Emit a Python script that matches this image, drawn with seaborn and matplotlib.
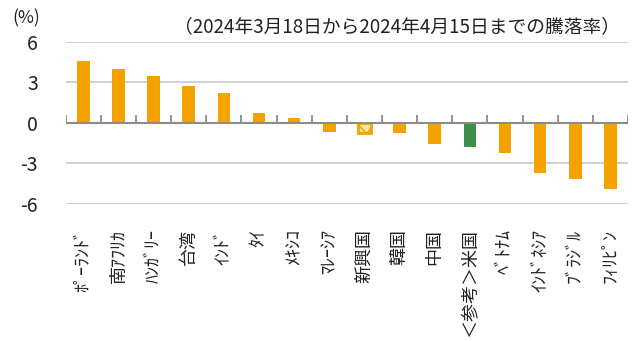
import matplotlib
matplotlib.use("Agg")
import matplotlib.pyplot as plt
import seaborn as sns
import pandas as pd

categories = ["ﾎﾟｰﾗﾝﾄﾞ", "南ｱﾌﾘｶ", "ﾊﾝｶﾞﾘｰ", "台湾", "ｲﾝﾄﾞ", "ﾀｲ", "ﾒｷｼｺ", "ﾏﾚｰｼｱ",
              "新興国", "韓国", "中国", "＜参考＞米国", "ﾍﾞﾄﾅﾑ", "ｲﾝﾄﾞﾈｼｱ", "ﾌﾞﾗｼﾞﾙ", "ﾌｨﾘﾋﾟﾝ"]
values = [4.54, 3.97, 3.48, 2.69, 2.2, 0.72, 0.35, -0.67,
          -0.78, -0.78, -1.58, -1.78, -2.27, -3.73, -4.14, -4.93]
yticks = [-6, -3, 0, 3, 6]
title_text = "（2024年3月18日から2024年4月15日までの騰落率）"
unit_text = "(%)"

ORANGE = "#F5A200"
GREEN = "#3F8F4A"
colors = {c: (GREEN if c == "＜参考＞米国" else ORANGE) for c in categories}

sns.set_theme(style="white")
plt.rcParams["font.family"] = ["Noto Sans CJK JP", "DejaVu Sans"]
plt.rcParams["hatch.linewidth"] = 1.2

df = pd.DataFrame({"cat": categories, "val": values})

fig = plt.figure(figsize=(6.32, 3.41), dpi=100)
ax = fig.add_axes([0.104, 0.402, 0.8897, 0.476])

sns.barplot(data=df, x="cat", y="val", hue="cat", palette=colors, legend=False,
            width=0.36, saturation=1, ax=ax, zorder=3)

# hatched "emerging" bar
for p, c in zip(ax.patches, categories):
    p.set_linewidth(0)
    if c == "新興国":
        p.set_facecolor("#FBE3B0")
        p.set_edgecolor(ORANGE)
        p.set_linewidth(2.0)
        p.set_hatch("xx")

ax.set_ylim(-6, 6)
ax.set_xlim(-0.5, len(categories) - 0.5)
ax.set_yticks(yticks)
ax.set_yticklabels([str(v) for v in yticks])
for y in yticks:
    if y != 0:
        ax.axhline(y, color="#C9C9C9", lw=1.2, zorder=1)
ax.axhline(0, color="#8C8C8C", lw=1.5, zorder=4)
bounds = [i - 0.5 for i in range(len(categories) + 1)]
ax.vlines(bounds, 0, 0.55, color="#8C8C8C", lw=1.3, zorder=4)

for s in ax.spines.values():
    s.set_visible(False)
ax.set_xlabel("")
ax.set_ylabel("")
ax.tick_params(axis="y", length=0, pad=20, labelsize=14, colors="#222222")
ax.tick_params(axis="x", length=0, pad=18, labelsize=13, colors="#222222")
for lbl in ax.get_xticklabels():
    lbl.set_rotation(90)
    lbl.set_va("top")
    lbl.set_ha("center")

fig.text(0.019, 0.947, unit_text, fontsize=12.5, va="center", ha="left", color="#222222")
fig.text(0.981, 0.921, title_text, fontsize=13.5, va="center", ha="right", color="#222222")

fig.savefig("out.png", dpi=100)
